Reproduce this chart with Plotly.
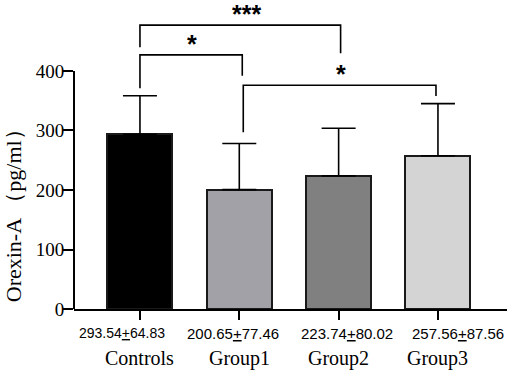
import plotly.graph_objects as go

categories = ["Controls", "Group1", "Group2", "Group3"]
means = [293.54, 200.65, 223.74, 257.56]
sds = [64.83, 77.46, 80.02, 87.56]
bar_colors = ["#000000", "#a2a1a7", "#808080", "#d4d4d4"]
stat_labels = ["293.54<u>+</u>64.83", "200.65<u>+</u>77.46", "223.74<u>+</u>80.02", "257.56<u>+</u>87.56"]
y_ticks = [0, 100, 200, 300, 400]

# significance brackets: (x_left, x_right, y_top, y_left_end, y_right_end, label, label_x)
brackets = [
    (0.0, 2.02, 477, 440, 430, "***", 1.07),
    (0.0, 1.03, 427, 371, 392, "*", 0.52),
    (1.04, 2.98, 376, 297, 358, "*", 2.02),
]

xpos = list(range(len(categories)))

fig = go.Figure()
fig.add_trace(go.Bar(
    x=xpos, y=means, width=0.654,
    marker=dict(color=bar_colors, line=dict(color="#1a1a1a", width=2)),
    error_y=dict(type="data", symmetric=False, array=sds, arrayminus=[0]*4,
                 color="black", thickness=1.6, width=17),
    showlegend=False, hoverinfo="skip",
))

shapes = []
# y axis line only up to 400
shapes.append(dict(type="line", xref="paper", yref="y", x0=0, x1=0, y0=0, y1=400,
                   line=dict(color="black", width=2)))
annotations = []
for (xl, xr, yt, yle, yre, lab, lx) in brackets:
    shapes.append(dict(type="path", xref="x", yref="y",
                       path=f"M {xl},{yle} L {xl},{yt} L {xr},{yt} L {xr},{yre}",
                       line=dict(color="black", width=1.6)))
    annotations.append(dict(x=lx, y=yt, xref="x", yref="y", text=f"<b>{lab}</b>",
                            showarrow=False, yanchor="bottom", yshift=-5,
                            font=dict(family="Liberation Sans", size=25, color="black")))

num_shift = [-18, -6, 8, 20]
num_size = [14, 15, 15, 15]
for i, (lab, cat) in enumerate(zip(stat_labels, categories)):
    annotations.append(dict(x=i, y=0, xref="x", yref="paper", text=lab, showarrow=False,
                            yanchor="top", yshift=-14, xshift=num_shift[i],
                            font=dict(family="Liberation Sans", size=num_size[i], color="black")))
    annotations.append(dict(x=i, y=0, xref="x", yref="paper", text=cat, showarrow=False,
                            yanchor="top", yshift=-36,
                            font=dict(family="Liberation Serif", size=20, color="black")))

annotations.append(dict(x=0, y=166, xref="paper", yref="y", xshift=-61, xanchor="center",
                        yanchor="middle",
                        text="Orexin-A （pg/ml）", textangle=-90, showarrow=False,
                        font=dict(family="Liberation Serif", size=22, color="black")))

fig.update_layout(
    width=510, height=378,
    margin=dict(l=74, r=3, t=10, b=69, autoexpand=False),
    paper_bgcolor="white", plot_bgcolor="white",
    shapes=shapes, annotations=annotations,
    xaxis=dict(range=[-0.664, 3.695], tickvals=xpos, showticklabels=False, automargin=False,
               ticks="outside", ticklen=9, tickwidth=2, tickcolor="black",
               showline=True, linecolor="black", linewidth=2, showgrid=False, zeroline=False),
    yaxis=dict(range=[0, 502.5], tickvals=y_ticks, ticks="outside", ticklen=10, tickwidth=2,
               automargin=False,
               tickcolor="black", showline=False, showgrid=False, zeroline=False,
               tickfont=dict(family="Liberation Serif", size=19, color="black")),
    bargap=0,
)
try:
    fig.update_layout(yaxis_ticklabelstandoff=-5)
except Exception:
    pass

fig.write_html("out.html", config={"displayModeBar": False},
               post_script="document.body.style.margin='0';document.body.style.overflow='hidden';")
